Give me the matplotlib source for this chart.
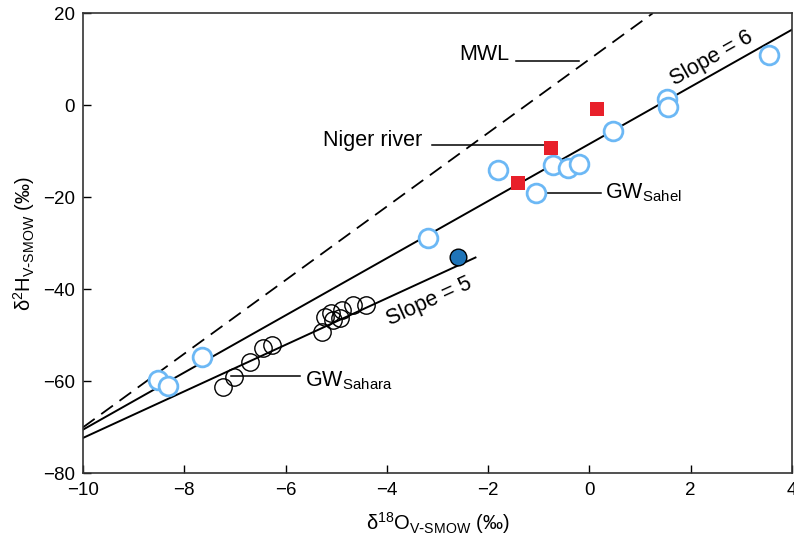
import numpy as np
import matplotlib.pyplot as plt

plt.rcParams['font.family'] = ['Liberation Sans', 'DejaVu Sans']
plt.rcParams['font.size'] = 13.5

# 데이터
sahel_o18 = [3.55, 1.54, 1.56, 0.46, -0.72, -0.42, -0.20, -1.81, -1.05, -3.19,
             -8.51, -8.33, -7.65]
sahel_h2 = [10.9, 1.4, -0.3, -5.6, -12.9, -13.7, -12.8, -14.1, -19.0, -28.8,
            -59.7, -61.0, -54.8]

sahara_o18 = [-7.23, -7.02, -6.71, -6.44, -6.26, -5.28, -5.23, -5.10, -5.07,
              -4.93, -4.88, -4.67, -4.41]
sahara_h2 = [-61.2, -59.1, -55.7, -52.7, -52.0, -49.2, -46.0, -45.2, -46.7,
             -46.3, -44.5, -43.4, -43.3]

river_o18 = [0.15, -0.76, -1.41]
river_h2 = [-0.8, -9.2, -16.8]

special_o18 = [-2.59]
special_h2 = [-32.9]

# 직선: (x 시작, x 끝, 기울기, 절편)
mwl = (-10.0, 1.25, 8.0, 10.0)
slope6 = (-10.0, 4.0, 6.21, -8.4)
slope5 = (-10.0, -2.25, 5.06, -21.7)

fig = plt.figure(figsize=(7.94, 5.41), dpi=100)
ax = fig.add_axes([0.1045, 0.125, 0.893, 0.8505])


def draw_line(params, **kw):
    x = np.array(params[:2])
    ax.plot(x, params[2] * x + params[3], **kw)


draw_line(mwl, color='black', lw=1.3, dashes=(8, 4.5), zorder=1)
draw_line(slope6, color='black', lw=1.4, zorder=1)
draw_line(slope5, color='black', lw=1.4, zorder=1)

ax.plot(sahara_o18, sahara_h2, 'o', ms=12.5, mfc='none', mec='black', mew=1.0, zorder=2)
ax.plot(sahel_o18, sahel_h2, 'o', ms=13.5, mfc='white', mec='#6cb8f5', mew=2.0, zorder=3)
ax.plot(river_o18, river_h2, 's', ms=9.5, mfc='#e8202a', mec='#e8202a', mew=0, zorder=4)
ax.plot(special_o18, special_h2, 'o', ms=12, mfc='#1f74b8', mec='black', mew=1.0, zorder=4)

# 주석선과 라벨
fs = 15.5
ax.plot([-1.45, -0.21], [9.6, 9.6], color='black', lw=1.1)
ax.text(-1.58, 11.0, 'MWL', ha='right', va='center', fontsize=fs)
ax.plot([-3.1, -0.86], [-8.7, -8.7], color='black', lw=1.1)
ax.text(-3.3, -7.6, 'Niger river', ha='right', va='center', fontsize=fs)
ax.plot([-0.86, 0.22], [-19.0, -19.0], color='black', lw=1.1)
ax.text(0.3, -19.0, r'GW$_{\mathregular{Sahel}}$', ha='left', va='center', fontsize=fs)
ax.plot([-7.07, -5.72], [-58.8, -58.8], color='black', lw=1.1)
ax.text(-5.62, -59.8, r'GW$_{\mathregular{Sahara}}$', ha='left', va='center', fontsize=fs)

ax.text(2.41, 10.3, 'Slope = 6', rotation=29.5, ha='center', va='center',
        rotation_mode='anchor', fontsize=fs)
ax.text(-3.16, -42.6, 'Slope = 5', rotation=24.5, ha='center', va='center',
        rotation_mode='anchor', fontsize=fs)

ax.set_xlim(-10, 4)
ax.set_ylim(-80, 20)
ax.set_xticks([-10, -8, -6, -4, -2, 0, 2, 4])
ax.set_yticks([-80, -60, -40, -20, 0, 20])
ax.tick_params(direction='in', length=6, width=1.0, pad=6)
for s in ax.spines.values():
    s.set_linewidth(1.2)
    s.set_color('#333333')

ax.set_xlabel(r'$\mathregular{\delta^{18}O_{V\text{-}SMOW}}$ (‰)', labelpad=8, fontsize=14.5)
ax.set_ylabel(r'$\mathregular{\delta^{2}H_{V\text{-}SMOW}}$ (‰)', labelpad=4, fontsize=14.5)

fig.savefig('out.png', dpi=100)
